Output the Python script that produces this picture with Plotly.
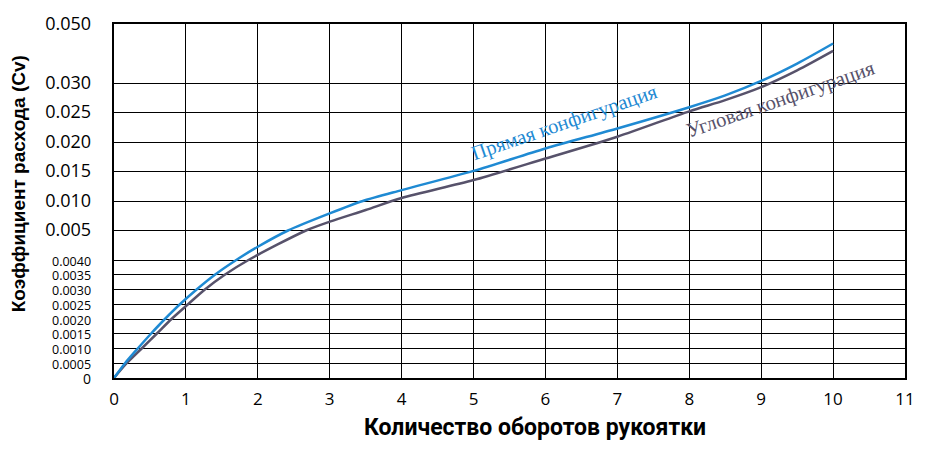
import numpy as np
import plotly.graph_objects as go

# ---- data ----
turns_straight = [0, 0.153, 0.33, 0.514, 0.708, 0.917, 1.149, 1.403, 1.70, 2.0, 2.42, 3.0,
                  3.46, 4.0, 5, 6, 7, 8, 8.5, 9, 9.5, 10]
cv_straight = [0, 0.0005, 0.0010, 0.0015, 0.0020, 0.0025, 0.0030, 0.0035, 0.0040, 0.00445,
               0.0050, 0.0079, 0.0100, 0.01185, 0.0151, 0.0189, 0.0223, 0.0259, 0.0279,
               0.0307, 0.0366, 0.0434]
turns_angle = [0, 0.176, 0.385, 0.593, 0.80, 1.03, 1.264, 1.54, 1.87, 2.67, 3.0,
               3.5, 4.0, 5, 6, 7, 8, 8.5, 9, 9.5, 10]
cv_angle = [0, 0.0005, 0.0010, 0.0015, 0.0020, 0.0025, 0.0030, 0.0035, 0.0040,
            0.0050, 0.0065, 0.00847, 0.0105, 0.01355, 0.0172, 0.0209, 0.0252, 0.0271,
            0.0293, 0.0343, 0.0409]

y_tick_values = [0, 0.0005, 0.0010, 0.0015, 0.0020, 0.0025, 0.0030, 0.0035, 0.0040,
                 0.005, 0.010, 0.015, 0.020, 0.025, 0.030, 0.050]
y_tick_labels = ["0", "0.0005", "0.0010", "0.0015", "0.0020", "0.0025", "0.0030",
                 "0.0035", "0.0040", "0.005", "0.010", "0.015", "0.020", "0.025",
                 "0.030", "0.050"]
x_ticks = list(range(0, 12))

# piecewise axis scale of the original chart (position of each tick on the axis)
y_tick_pos = [0, 1, 2, 3, 4, 5, 6, 7, 8, 10, 12, 14, 16, 18, 20, 24]


def yscale(v):
    return np.interp(v, y_tick_values, y_tick_pos)


ticktext = []
for i, t in enumerate(y_tick_labels):
    size = 12.5 if 1 <= i <= 8 else 18
    if i == 0:
        size = 14
    ticktext.append(f'<span style="font-size:{size}px">{t}</span>')

BLUE = "#1f8ad3"
GREY = "#57526b"

fig = go.Figure()
fig.add_trace(go.Scatter(x=turns_angle, y=yscale(cv_angle), mode="lines",
                         line=dict(color=GREY, width=2.5, shape="spline", smoothing=0.8),
                         name="Угловая конфигурация", showlegend=False, hoverinfo="skip"))
fig.add_trace(go.Scatter(x=turns_straight, y=yscale(cv_straight), mode="lines",
                         line=dict(color=BLUE, width=2.5, shape="spline", smoothing=0.8),
                         name="Прямая конфигурация", showlegend=False, hoverinfo="skip"))

fig.add_annotation(x=6.27, y=17.3, xref="x", yref="y",
                   text="Прямая конфигурация", showarrow=False, textangle=-19,
                   font=dict(family="Liberation Serif, DejaVu Serif, serif", size=20.5, color=BLUE))
fig.add_annotation(x=9.27, y=18.85, xref="x", yref="y",
                   text="Угловая конфигурация", showarrow=False, textangle=-19,
                   font=dict(family="Liberation Serif, DejaVu Serif, serif", size=20.5, color=GREY))

# axis titles
fig.add_annotation(x=-0.121, y=0.548, xref="paper", yref="paper", xanchor="center", yanchor="middle",
                   text="<b>Коэффициент расхода (Cv)</b>", showarrow=False, textangle=-90,
                   font=dict(family="Liberation Sans, Arial, sans-serif", size=19, color="black"))
fig.add_annotation(x=0.532, y=-0.14, xref="paper", yref="paper", xanchor="center", yanchor="middle",
                   text="<b>Количество оборотов рукоятки</b>", showarrow=False,
                   font=dict(family="Roboto, Arial, sans-serif", size=23, color="black"))

# the page adds an 8px body margin, so margins are chosen to place the plot
# area at the same pixels as the reference
fig.update_layout(
    width=926, height=460,
    margin=dict(l=106, r=29, t=15.5, b=90),
    paper_bgcolor="white", plot_bgcolor="white",
    font=dict(family="Open Sans, Noto Sans, sans-serif", color="black"),
    xaxis=dict(range=[0, 11], tickvals=x_ticks, ticktext=[str(t) for t in x_ticks],
               showgrid=True, gridcolor="black", gridwidth=1.2,
               showline=True, linecolor="black", linewidth=1.5, mirror=True,
               zeroline=False, ticks="", tickfont=dict(size=17),
               ticklabelstandoff=5, automargin=False),
    yaxis=dict(range=[0, 24], tickvals=y_tick_pos, ticktext=ticktext,
               showgrid=True, gridcolor="black", gridwidth=1.2,
               showline=True, linecolor="black", linewidth=1.5, mirror=True,
               zeroline=False, ticks="", tickfont=dict(size=16),
               ticklabelstandoff=18, automargin=False),
)

fig.write_html("out.html")
